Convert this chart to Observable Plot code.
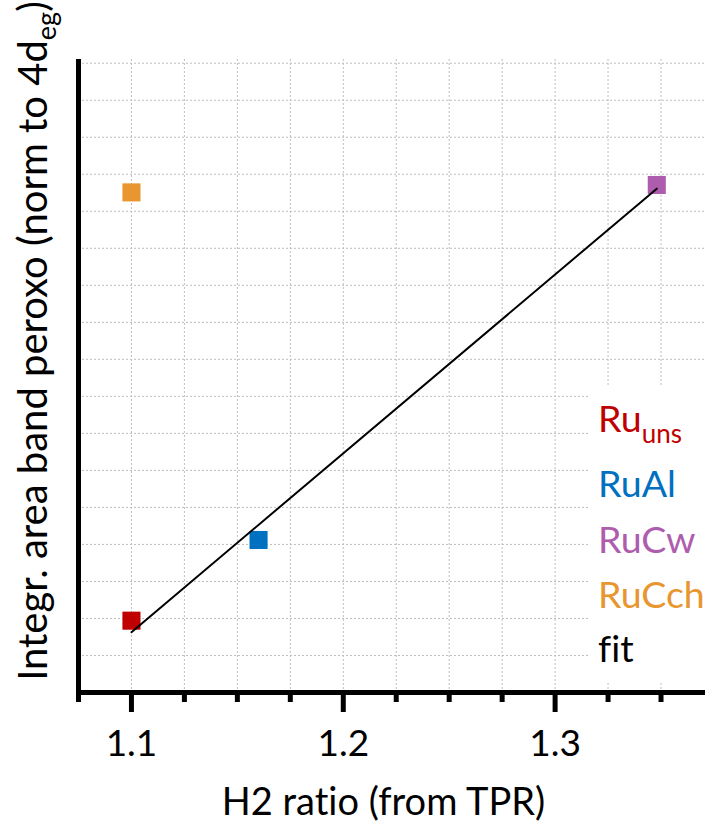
<!DOCTYPE html>
<html>
<head>
<meta charset="utf-8">
<script src="https://cdn.jsdelivr.net/npm/d3@7"></script>
<script src="https://cdn.jsdelivr.net/npm/@observablehq/plot@0.6"></script>
<style>
  body { margin: 0; background: #fff; }
  #chart { position: relative; width: 705px; height: 825px; font-family: Lato, "Open Sans", sans-serif; font-variant-ligatures: none; }
  #chart > svg { position: absolute; left: 0; top: 0; }
</style>
</head>
<body>
<div id="chart"></div>
<script>
// Catalyst samples: H2 uptake ratio from TPR vs. integrated peroxo band area
const samples = ["Ru_uns", "RuAl", "RuCw", "RuCch"];
const h2Ratio = [1.10, 1.16, 1.348, 1.10];
const peroxoArea = [1.94, 4.12, 13.71, 13.51];
const sampleColors = ["#C00000", "#0070C0", "#AE5DAE", "#E8962F"];

// Samples used in the linear fit (RuCch is left out)
const fitSamples = ["Ru_uns", "RuAl", "RuCw"];

// Axis extents and ticks
const xDomain = [1.075, 1.371];
const yDomain = [0, 17.1];
const majorTicks = [1.1, 1.2, 1.3];
const minorTicks = [1.075, 1.125, 1.15, 1.175, 1.225, 1.25, 1.275, 1.325, 1.35];
const xGrid = [1.1, 1.125, 1.15, 1.175, 1.2, 1.225, 1.25, 1.275, 1.3, 1.325, 1.35];
const yGrid = [1, 2, 3, 4, 5, 6, 7, 8, 9, 10, 11, 12, 13, 14, 15, 16, 17];

const points = samples.map((s, i) => ({sample: s, x: h2Ratio[i], y: peroxoArea[i]}));
const fitPoints = points.filter(d => fitSamples.includes(d.sample));

const width = 705, height = 825;
const marginLeft = 78, marginRight = 0, marginTop = 59, marginBottom = 133;

const gridStyle = {stroke: "#bdbdbd", strokeWidth: 1, strokeDasharray: "2,2"};

const plot = Plot.plot({
  width, height, marginLeft, marginRight, marginTop, marginBottom,
  style: {fontFamily: "Lato, 'Open Sans', sans-serif", background: "transparent", overflow: "visible"},
  x: {domain: xDomain, label: null, axis: null},
  y: {domain: yDomain, label: null, axis: null},
  color: {domain: samples, range: sampleColors},
  marks: [
    Plot.ruleX(xGrid, {...gridStyle}),
    Plot.ruleY(yGrid, {...gridStyle}),
    Plot.axisX(minorTicks, {tickSize: 10, strokeWidth: 5, text: null, label: null}),
    Plot.axisX(majorTicks, {
      tickSize: 20, strokeWidth: 5, tickPadding: 17, fontSize: 37,
      tickFormat: d => d.toFixed(1), label: null, fill: "#000"
    }),
    Plot.ruleX([xDomain[0]], {stroke: "#000", strokeWidth: 5}),
    Plot.ruleY([yDomain[0]], {stroke: "#000", strokeWidth: 5, x1: xDomain[0], x2: xDomain[1]}),
    Plot.dot(points, {x: "x", y: "y", fill: "sample", symbol: "square", r: 10.2}),
    Plot.linearRegressionY(fitPoints, {x: "x", y: "y", stroke: "#000", strokeWidth: 2, ci: 0})
  ]
});

const chart = document.getElementById("chart");
chart.appendChild(plot);

// Titles and legend drawn on top of the plot
const overlay = d3.select(chart).append("svg")
  .attr("width", width).attr("height", height)
  .style("font-family", "Lato, 'Open Sans', sans-serif");

const xCenter = (marginLeft + width - marginRight) / 2 - 8;
overlay.append("text")
  .attr("x", xCenter).attr("y", 815)
  .attr("text-anchor", "middle").attr("font-size", 38).attr("fill", "#000")
  .text("H2 ratio (from TPR)");

const yTitle = overlay.append("text")
  .attr("transform", "translate(47,341) rotate(-90)")
  .attr("text-anchor", "middle").attr("font-size", 40).attr("fill", "#000");
yTitle.append("tspan").text("Integr. area band peroxo (norm to 4d");
yTitle.append("tspan").attr("font-size", 27).attr("dy", 9).text("eg");
yTitle.append("tspan").attr("dy", -9).text(")");

// Legend box masks the grid behind it
const legend = overlay.append("g");
legend.append("rect")
  .attr("x", 590).attr("y", 386).attr("width", 115).attr("height", 297)
  .attr("fill", "#fff");

const legendRows = [
  {main: "Ru", sub: "uns", color: sampleColors[0]},
  {main: "RuAl", color: sampleColors[1]},
  {main: "RuCw", color: sampleColors[2]},
  {main: "RuCch", color: sampleColors[3]},
  {main: "fit", color: "#000"}
];
const legendBaselines = [432, 497, 553, 608, 662];
legendRows.forEach((row, i) => {
  const t = legend.append("text")
    .attr("x", 598).attr("y", legendBaselines[i])
    .attr("font-size", 37.5).attr("fill", row.color);
  t.append("tspan").text(row.main);
  if (row.sub) t.append("tspan").attr("font-size", 26).attr("dy", 11).text(row.sub);
});
</script>
</body>
</html>
